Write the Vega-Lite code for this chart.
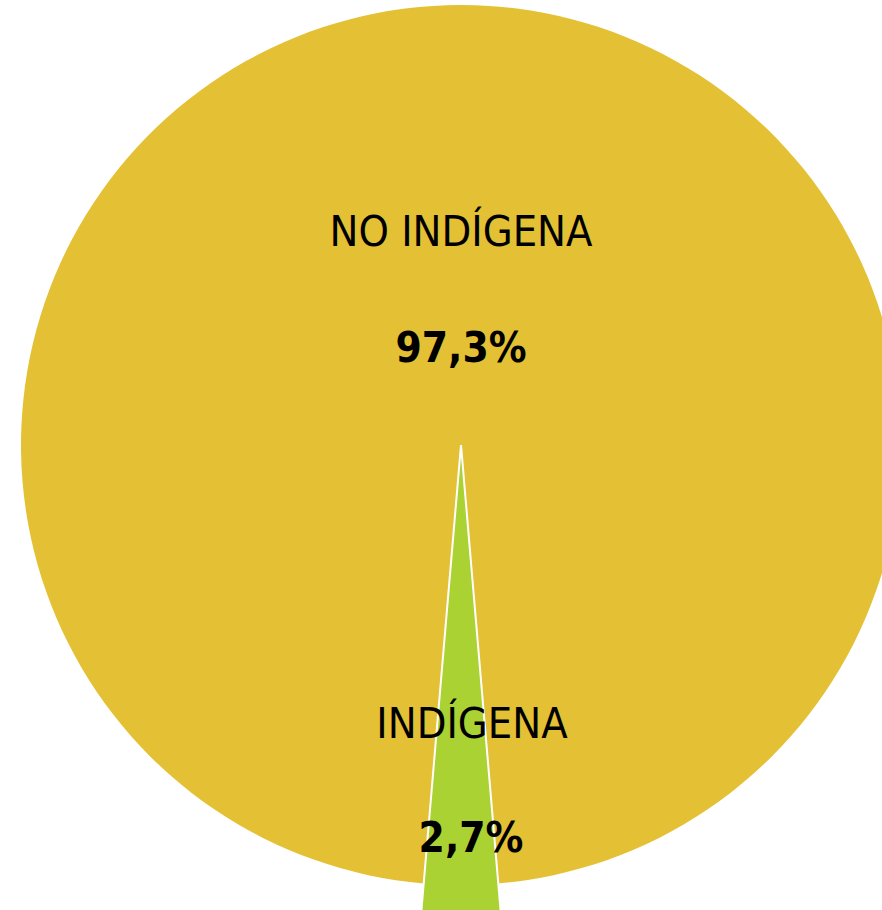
{
  "$schema": "https://vega.github.io/schema/vega-lite/v6.json",
  "width": 842,
  "height": 890,
  "autosize": {"type": "none"},
  "padding": {"left": 40, "right": 0, "top": 0, "bottom": 20},
  "background": "white",
  "config": {"view": {"stroke": null}},
  "data": {
    "values": [
      {"grupo": "INDÍGENA", "pct": 2.7, "label": "2,7%"},
      {"grupo": "NO INDÍGENA", "pct": 97.3, "label": "97,3%"}
    ]
  },
  "transform": [
    {"stack": "pct", "groupby": [], "sort": [{"field": "grupo", "order": "ascending"}], "as": ["t0", "t1"]},
    {"calculate": "(datum.t0 + datum.t1) / 2", "as": "tmid"}
  ],
  "layer": [
    {
      "transform": [{"filter": "datum.grupo === 'NO INDÍGENA'"}],
      "mark": {"type": "arc", "outerRadius": 440, "fill": "#E4C134"},
      "encoding": {
        "theta": {"field": "t0", "type": "quantitative", "scale": {"domain": [0, 100], "range": [3.0568, 9.34]}},
        "theta2": {"field": "t1"}
      }
    },
    {
      "transform": [{"filter": "datum.grupo === 'INDÍGENA'"}],
      "mark": {"type": "arc", "outerRadius": 490, "fill": "#ABD233", "stroke": "white", "strokeWidth": 2},
      "encoding": {
        "theta": {"field": "t0", "type": "quantitative", "scale": {"domain": [0, 100], "range": [3.0568, 9.34]}},
        "theta2": {"field": "t1"}
      }
    },
    {
      "transform": [{"filter": "datum.grupo === 'NO INDÍGENA'"}],
      "mark": {"type": "text", "radius": 212, "font": "DejaVu Sans Condensed", "fontSize": 43, "baseline": "middle", "align": "center", "color": "black"},
      "encoding": {
        "theta": {"field": "tmid", "type": "quantitative", "scale": {"domain": [0, 100], "range": [3.0568, 9.34]}},
        "text": {"field": "grupo"}
      }
    },
    {
      "transform": [{"filter": "datum.grupo === 'NO INDÍGENA'"}],
      "mark": {"type": "text", "radius": 96, "font": "DejaVu Sans Condensed", "fontSize": 42, "fontWeight": "bold", "baseline": "middle", "align": "center", "color": "black"},
      "encoding": {
        "theta": {"field": "tmid", "type": "quantitative", "scale": {"domain": [0, 100], "range": [3.0568, 9.34]}},
        "text": {"field": "label"}
      }
    },
    {
      "transform": [{"filter": "datum.grupo === 'INDÍGENA'"}],
      "mark": {"type": "text", "radius": 280, "dx": 11, "font": "DejaVu Sans Condensed", "fontSize": 43, "baseline": "middle", "align": "center", "color": "black"},
      "encoding": {
        "theta": {"field": "tmid", "type": "quantitative", "scale": {"domain": [0, 100], "range": [3.0568, 9.34]}},
        "text": {"field": "grupo"}
      }
    },
    {
      "transform": [{"filter": "datum.grupo === 'INDÍGENA'"}],
      "mark": {"type": "text", "radius": 394, "dx": 10, "font": "DejaVu Sans Condensed", "fontSize": 42, "fontWeight": "bold", "baseline": "middle", "align": "center", "color": "black"},
      "encoding": {
        "theta": {"field": "tmid", "type": "quantitative", "scale": {"domain": [0, 100], "range": [3.0568, 9.34]}},
        "text": {"field": "label"}
      }
    }
  ]
}
